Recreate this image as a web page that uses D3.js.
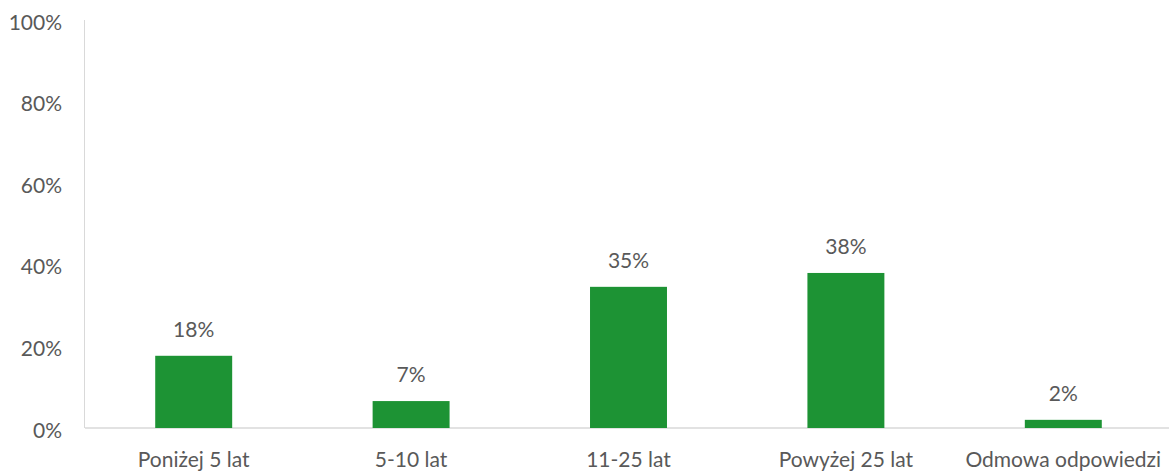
<!DOCTYPE html>
<html><head><meta charset="utf-8">
<script src="https://cdn.jsdelivr.net/npm/d3@7"></script>
<style>body{margin:0;background:#fff}svg{display:block}text{font-family:Lato,sans-serif;fill:#595959}</style>
</head><body><svg id="c" width="1169" height="471"></svg>
<script>
const categories = ["Poniżej 5 lat","5-10 lat","11-25 lat","Powyżej 25 lat","Odmowa odpowiedzi"];
const values = [0.177, 0.066, 0.346, 0.380, 0.020];
const yTicks = [0,0.2,0.4,0.6,0.8,1.0];

const svg = d3.select("#c");
const x = d3.scaleBand().domain(categories).range([85,1172]).paddingInner(0.646).paddingOuter(0.323);
const y = d3.scaleLinear().domain([0,1]).range([428,20]);
const fmt = d3.format(".0%");

svg.append("line").attr("x1",x.range()[0]).attr("x2",x.range()[1]).attr("y1",y(0)).attr("y2",y(0)).attr("stroke","#d9d9d9").attr("stroke-width",1.5);
svg.append("line").attr("x1",84.5).attr("x2",84.5).attr("y1",y(1)).attr("y2",y(0)).attr("stroke","#d9d9d9").attr("stroke-width",1);

svg.selectAll(".yt").data(yTicks).enter().append("text")
  .attr("x",62).attr("y",d=>y(d)+2).attr("dy","0.36em").attr("text-anchor","end")
  .attr("font-size",21).text(fmt);

svg.selectAll(".bar").data(values).enter().append("rect")
  .attr("x",(d,i)=>x(categories[i])).attr("width",x.bandwidth())
  .attr("y",d=>y(d)).attr("height",d=>y(0)-y(d)).attr("fill","#1d9334");

svg.selectAll(".dl").data(values).enter().append("text")
  .attr("x",(d,i)=>x(categories[i])+x.bandwidth()/2).attr("y",d=>y(d)-19)
  .attr("text-anchor","middle").attr("font-size",21).text(fmt);

svg.selectAll(".xl").data(categories).enter().append("text")
  .attr("x",d=>x(d)+x.bandwidth()/2).attr("y",467)
  .attr("text-anchor","middle").attr("font-size",21).text(d=>d);
</script></body></html>
